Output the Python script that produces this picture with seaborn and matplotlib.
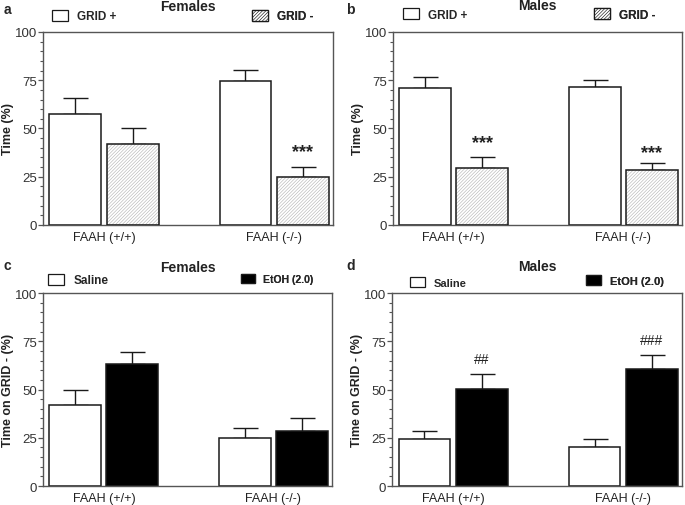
import pandas as pd
import matplotlib.pyplot as plt
import seaborn as sns
from matplotlib.patches import Patch, Rectangle
from matplotlib.ticker import MultipleLocator

# Values (mean, upper error bar)
genotypes = ["FAAH (+/+)", "FAAH (-/-)"]

a_grid_pos = [57.5, 74.8]
a_grid_pos_err = [8.1, 5.4]
a_grid_neg = [42.0, 24.7]
a_grid_neg_err = [8.0, 5.5]

b_grid_pos = [70.8, 71.7]
b_grid_pos_err = [5.7, 3.4]
b_grid_neg = [29.4, 28.5]
b_grid_neg_err = [5.8, 3.5]

c_saline = [42.1, 25.0]
c_saline_err = [7.8, 5.2]
c_etoh = [63.0, 28.3]
c_etoh_err = [6.4, 6.9]

d_saline = [24.2, 20.2]
d_saline_err = [4.5, 4.2]
d_etoh = [50.4, 60.4]
d_etoh_err = [7.6, 7.6]

# significance marks: (hue index, genotype index, text, y)
a_marks = [(1, 1, "***", 38)]
b_marks = [(1, 0, "***", 42.5), (1, 1, "***", 37.5)]
c_marks = []
d_marks = [(1, 0, "##", 66), (1, 1, "###", 75.5)]

sns.set_style("white")
plt.rcParams["font.family"] = ["Liberation Sans", "DejaVu Sans"]
plt.rcParams["hatch.linewidth"] = 0.45

EDGE = "#1a1a1a"
SPINE = "#555555"


def make_df(names, vals):
    rows = []
    for name, v in zip(names, vals):
        for g, y in zip(genotypes, v):
            rows.append({"genotype": g, "cond": name, "value": y})
    return pd.DataFrame(rows)


def panel(ax, names, vals, errs, styles, ylabel, title, title_y, leg_pos, marks):
    df = make_df(names, vals)
    pal = {n: s["face"] for n, s in zip(names, styles)}
    sns.barplot(data=df, x="genotype", y="value", hue="cond", hue_order=names,
                order=genotypes, palette=pal, saturation=1, errorbar=None,
                width=0.672, gap=0.09, legend=False, ax=ax, zorder=2)

    for cont, err, st in zip(ax.containers, errs, styles):
        for bar, e in zip(cont, err):
            x = bar.get_x() + bar.get_width() / 2
            h = bar.get_height()
            ax.errorbar([x], [h], yerr=[[0], [e]], fmt="none", ecolor=EDGE,
                        elinewidth=1.0, capsize=9, capthick=1.0, zorder=1)
            if st.get("hatch"):
                bar.set_hatch(st["hatch"])
                bar.set_edgecolor("#b8b8b8")
                bar.set_linewidth(0)
                ax.add_patch(Rectangle(bar.get_xy(), bar.get_width(), h,
                                       facecolor="none", edgecolor=EDGE,
                                       linewidth=1.1, zorder=3))
            else:
                bar.set_edgecolor(EDGE)
                bar.set_linewidth(1.1)

    for hi, gi, txt, y in marks:
        bar = ax.containers[hi][gi]
        x = bar.get_x() + bar.get_width() / 2
        if "*" in txt:
            ax.text(x, y, txt, ha="center", va="center", fontsize=13,
                    fontweight="bold", color="#222222")
        else:
            ax.text(x, y, txt, ha="center", va="center", fontsize=10,
                    color="#222222")

    ax.set_xlim(-0.359, 1.347)
    ax.set_ylim(0, 100)
    ax.set_yticks([0, 25, 50, 75, 100])
    ax.yaxis.set_minor_locator(MultipleLocator(5))
    ax.tick_params(axis="y", which="major", direction="out", length=3.5,
                   width=0.9, color=SPINE, labelsize=9.5, pad=0.8,
                   labelcolor="#333333", left=True)
    ax.tick_params(axis="y", which="minor", direction="out", length=2,
                   width=0.8, color=SPINE, left=True)
    ax.tick_params(axis="x", length=0, labelsize=9, pad=4,
                   labelcolor="#222222")
    for sp in ax.spines.values():
        sp.set_visible(True)
        sp.set_color(SPINE)
        sp.set_linewidth(1.0)
    ax.set_xlabel("")
    ax.set_ylabel(ylabel, fontsize=9, fontweight="bold", color="#222222")
    ax.yaxis.set_label_coords(-0.10, 0.5)
    ax.text(0.5, title_y, title, transform=ax.transAxes, ha="center",
            va="center", fontsize=10, fontweight="bold", color="#222222")

    for (name, st, (lx, ly, fs)) in zip(names, styles, leg_pos):
        h = Patch(facecolor=st["face"], edgecolor=EDGE, linewidth=0.9,
                  hatch=st.get("hatch"))
        leg = ax.legend(handles=[h], labels=[name], loc="center left",
                        bbox_to_anchor=(lx, ly), frameon=False, borderpad=0,
                        borderaxespad=0, handlelength=1.35, handleheight=1.05,
                        handletextpad=0.8,
                        prop={"size": fs, "weight": "bold"})
        ax.add_artist(leg)


fig = plt.figure(figsize=(6.85, 5.06), dpi=100)
ax_a = fig.add_axes([0.0628, 0.5534, 0.4234, 0.3814])
ax_b = fig.add_axes([0.5737, 0.5534, 0.4219, 0.3814])
ax_c = fig.add_axes([0.0628, 0.0375, 0.4219, 0.3814])
ax_d = fig.add_axes([0.5723, 0.0375, 0.4234, 0.3814])

grid_styles = [{"face": "white"}, {"face": "white", "hatch": "//////////"}]
drug_styles = [{"face": "white"}, {"face": "black"}]

panel(ax_a, ["GRID +", "GRID -"], [a_grid_pos, a_grid_neg],
      [a_grid_pos_err, a_grid_neg_err], grid_styles, "Time (%)", "Females",
      1.135, [(0.031, 1.083, 8.5), (0.72, 1.083, 8.5)], a_marks)
panel(ax_b, ["GRID +", "GRID -"], [b_grid_pos, b_grid_neg],
      [b_grid_pos_err, b_grid_neg_err], grid_styles, "Time (%)", "Males",
      1.14, [(0.035, 1.09, 8.5), (0.695, 1.09, 8.5)], b_marks)
panel(ax_c, ["Saline", "EtOH (2.0)"], [c_saline, c_etoh],
      [c_saline_err, c_etoh_err], drug_styles, "Time on GRID - (%)",
      "Females", 1.135, [(0.017, 1.067, 8.5), (0.685, 1.073, 7.5)], c_marks)
panel(ax_d, ["Saline", "EtOH (2.0)"], [d_saline, d_etoh],
      [d_saline_err, d_etoh_err], drug_styles, "Time on GRID - (%)",
      "Males", 1.14, [(0.062, 1.054, 8), (0.669, 1.067, 8)], d_marks)

for lbl, x, y in [("a", 0.005, 0.995), ("b", 0.505, 0.995),
                  ("c", 0.005, 0.488), ("d", 0.505, 0.488)]:
    fig.text(x, y, lbl, fontsize=10, fontweight="bold", va="top", ha="left")

fig.savefig("out.png", dpi=100)
